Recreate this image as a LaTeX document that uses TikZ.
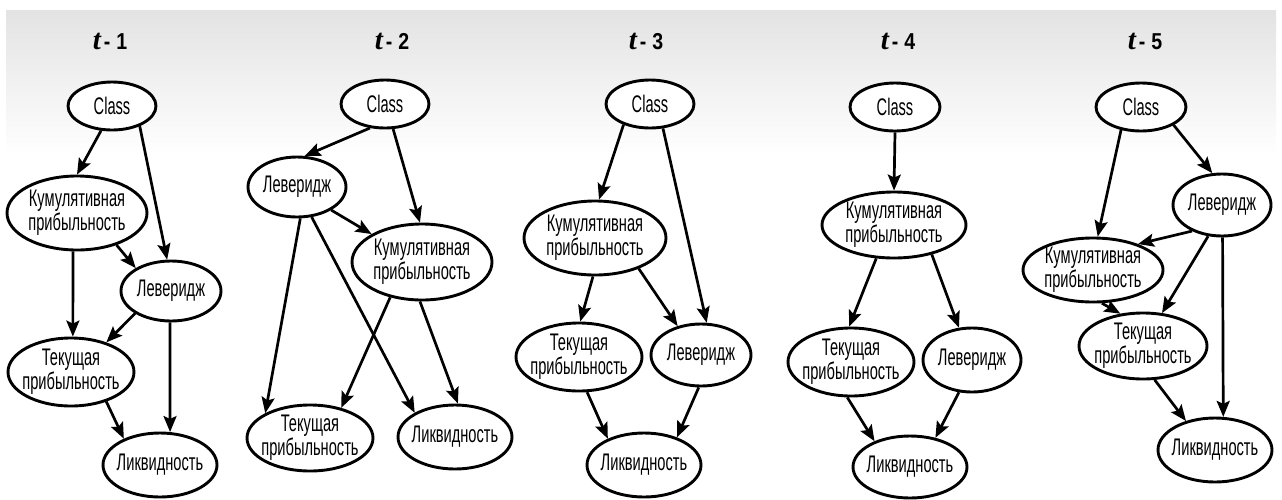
\documentclass[tikz,border=0pt]{standalone}
\usepackage{fontspec}
\setmainfont{Liberation Sans}[FakeStretch=0.61]
\newfontfamily\tserif{Liberation Serif}
\newfontfamily\ttlfont{Liberation Sans}[FakeStretch=0.85]
\usetikzlibrary{shapes.geometric,arrows.meta}
\tikzset{
  nd/.style={ellipse, draw, line width=2.9pt, fill=white, inner sep=0pt},
  lbl/.style={align=center, inner sep=0pt, font=\fontsize{24}{22}\selectfont},
  arr/.style={line width=2.7pt, -{Stealth[length=16pt,width=13pt,inset=3pt]}},
  ttl/.style={font=\ttlfont\bfseries\fontsize{23}{23}\selectfont, anchor=base, inner sep=0pt},
}
\newcommand{\ttitle}[1]{{\tserif\bfseries\itshape\fontsize{29}{29}\selectfont t}\kern3pt-\kern6pt#1}
\newcommand{\KP}{Кумулятивная\\прибыльность}
\newcommand{\TP}{Текущая\\прибыльность}
\begin{document}
\begin{tikzpicture}[x=1pt,y=-1pt]
\useasboundingbox (0,0) rectangle (1282,499);
\fill[white] (0,0) rectangle (1282,499);
\shade[top color=black!11, bottom color=white] (6,10) rectangle (1276,155);

% titles
\node[ttl] (h1) at (110,49) {\ttitle{1}};
\node[ttl] (h2) at (392,49) {\ttitle{2}};
\node[ttl] (h3) at (646,49) {\ttitle{3}};
\node[ttl] (h4) at (898,49) {\ttitle{4}};
\node[ttl] (h5) at (1145,49) {\ttitle{5}};

% panel 1
\node[nd, minimum width=88pt, minimum height=48pt, label={[lbl]center:Class}] (c1) at (112,106) {};
\node[nd, minimum width=140pt, minimum height=74pt, label={[lbl]center:\KP}] (k1) at (77,213) {};
\node[nd, minimum width=100pt, minimum height=60pt, label={[lbl]center:Леверидж}] (l1) at (171,291) {};
\node[nd, minimum width=126pt, minimum height=68pt, label={[lbl]center:\TP}] (t1) at (71,372) {};
\node[nd, minimum width=114pt, minimum height=64pt, label={[lbl]center:Ликвидность}] (q1) at (160,465) {};
\draw[arr] (c1.-114) -- (k1.90);
\draw[arr] (c1.-36) -- (l1.97);
\draw[arr] (k1.-39) -- (l1.147);
\draw[arr] (k1.-96) -- (t1.87);
\draw[arr] (l1.-148) -- (t1.40);
\draw[arr] (l1.-92) -- (q1.73);
\draw[arr] (t1.-40) -- (q1.144);

% panel 2
\node[nd, minimum width=88pt, minimum height=48pt, label={[lbl]center:Class}] (c2) at (385,104) {};
\node[nd, minimum width=98pt, minimum height=60pt, label={[lbl]center:Леверидж}] (l2) at (297,187) {};
\node[nd, minimum width=140pt, minimum height=76pt, label={[lbl]center:\KP}] (k2) at (422,262) {};
\node[nd, minimum width=126pt, minimum height=66pt, label={[lbl]center:\TP}] (t2) at (310,438) {};
\node[nd, minimum width=114pt, minimum height=64pt, label={[lbl]center:Ликвидность}] (q2) at (455,437) {};
\draw[arr] (c2.-122) -- (l2.76);
\draw[arr] (c2.-72) -- (k2.93);
\draw[arr] (l2.-34) -- (k2.151);
\draw[arr] (l2.-84) -- (t2.151);
\draw[arr] (l2.-64) -- (q2.149);
\draw[arr] (k2.-132) -- (t2.44);
\draw[arr] (k2.-93) -- (q2.85);

% panel 3
\node[nd, minimum width=88pt, minimum height=48pt, label={[lbl]center:Class}] (c3) at (650,104) {};
\node[nd, minimum width=142pt, minimum height=74pt, label={[lbl]center:\KP}] (k3) at (595,238) {};
\node[nd, minimum width=126pt, minimum height=68pt, label={[lbl]center:\TP}] (t3) at (579,357) {};
\node[nd, minimum width=100pt, minimum height=62pt, label={[lbl]center:Леверидж}] (l3) at (701,355) {};
\node[nd, minimum width=114pt, minimum height=64pt, label={[lbl]center:Ликвидность}] (q3) at (644,465) {};
\draw[arr] (c3.-142) -- (k3.84);
\draw[arr] (c3.-62) -- (l3.80);
\draw[arr] (k3.-93) -- (t3.88);
\draw[arr] (k3.-35) -- (l3.129);
\draw[arr] (t3.-77) -- (q3.144);
\draw[arr] (l3.-94) -- (q3.40);

% panel 4
\node[nd, minimum width=90pt, minimum height=48pt, label={[lbl]center:Class}] (c4) at (895,107) {};
\node[nd, minimum width=144pt, minimum height=66pt, label={[lbl]center:\KP}] (k4) at (894,225) {};
\node[nd, minimum width=126pt, minimum height=68pt, label={[lbl]center:\TP}] (t4) at (851,362) {};
\node[nd, minimum width=98pt, minimum height=64pt, label={[lbl]center:Леверидж}] (l4) at (972,360) {};
\node[nd, minimum width=114pt, minimum height=62pt, label={[lbl]center:Ликвидность}] (q4) at (910,467) {};
\draw[arr] (c4.-90) -- (k4.90);
\draw[arr] (k4.-118) -- (t4.93);
\draw[arr] (k4.-38) -- (l4.112);
\draw[arr] (t4.-96) -- (q4.144);
\draw[arr] (l4.-112) -- (q4.49);

% panel 5
\node[nd, minimum width=90pt, minimum height=48pt, label={[lbl]center:Class}] (c5) at (1141,107) {};
\node[nd, minimum width=98pt, minimum height=62pt, label={[lbl]center:Леверидж}] (l5) at (1222,205) {};
\node[nd, minimum width=140pt, minimum height=64pt, label={[lbl]center:\KP}] (k5) at (1093,270) {};
\node[nd, minimum width=128pt, minimum height=66pt, label={[lbl]center:\TP}] (t5) at (1143,346) {};
\node[nd, minimum width=114pt, minimum height=64pt, label={[lbl]center:Ликвидность}] (q5) at (1215,450) {};
\draw[arr] (c5.-131) -- (k5.82);
\draw[arr] (c5.-29) -- (l5.107);
\draw[arr] (l5.-139) -- (k5.30);
\draw[arr] (l5.-114) -- (t5.60);
\draw[arr] (l5.-89) -- (q5.76);
\draw[arr] (k5.-75) -- (t5.125);
\draw[arr] (t5.-71) -- (q5.135);
\end{tikzpicture}
\end{document}
